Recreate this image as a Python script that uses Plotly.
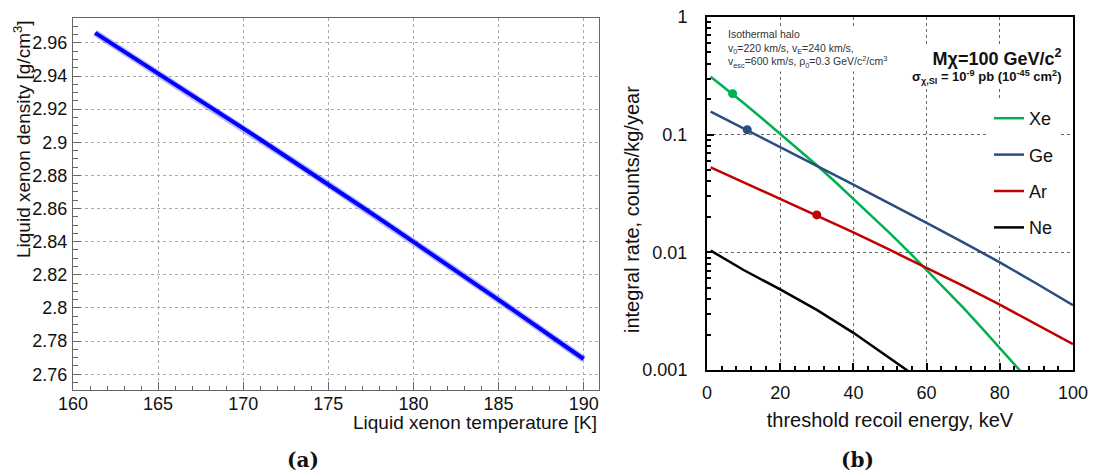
import plotly.graph_objects as go

# ---------------- data: panel (a) ----------------
temperature_K = [161.3, 162, 163, 164, 165, 166, 167, 168, 169, 170,
                 171, 172, 173, 174, 175, 176, 177, 178, 179, 180,
                 181, 182, 183, 184, 185, 186, 187, 188, 189, 190]
density_gcm3 = [2.9660, 2.9614, 2.9549, 2.9483, 2.9417, 2.9352, 2.9285, 2.9218, 2.9152, 2.9084,
                2.9017, 2.8949, 2.8882, 2.8814, 2.8745, 2.8677, 2.8608, 2.8539, 2.8470, 2.8400,
                2.8331, 2.8260, 2.8190, 2.8120, 2.8049, 2.7978, 2.7907, 2.7836, 2.7763, 2.7692]
a_xticks = [160, 165, 170, 175, 180, 185, 190]
a_yticks = [2.76, 2.78, 2.80, 2.82, 2.84, 2.86, 2.88, 2.90, 2.92, 2.94, 2.96]
a_yticklabels = ["2.76", "2.78", "2.8", "2.82", "2.84", "2.86", "2.88", "2.9", "2.92", "2.94", "2.96"]

# ---------------- data: panel (b) ----------------
xe_E = [1, 5, 10, 15, 20, 25, 30, 35, 40, 45, 50, 55, 60, 65, 70, 75, 80, 85, 86]
xe_rate = [0.311, 0.248, 0.186, 0.138, 0.102, 0.0750, 0.0550, 0.0398, 0.0285, 0.0204,
           0.0145, 0.0102, 0.00708, 0.00490, 0.00339, 0.00229, 0.00155, 0.00104, 0.00095]
ge_E = [1, 10, 20, 30, 40, 50, 60, 70, 80, 90, 100]
ge_rate = [0.157, 0.1135, 0.0785, 0.0543, 0.0376, 0.0260, 0.0178, 0.01216, 0.00822, 0.00543, 0.00355]
ar_E = [1, 10, 20, 30, 40, 50, 60, 70, 80, 90, 100]
ar_rate = [0.0528, 0.0394, 0.0285, 0.0207, 0.0148, 0.01047, 0.00741, 0.00519, 0.00359, 0.00245, 0.00166]
ne_E = [1, 10, 20, 30, 40, 50, 56]
ne_rate = [0.01035, 0.00708, 0.00484, 0.00324, 0.00207, 0.00127, 0.00093]
# threshold markers (E, rate)
xe_mark = ([7], [0.223])
ge_mark = ([11], [0.110])
ar_mark = ([30], [0.0208])
b_xticks = [0, 20, 40, 60, 80, 100]
b_yticks = [0.001, 0.01, 0.1, 1]
b_yticklabels = ["0.001", "0.01", "0.1", "1"]

GREEN, BLUE, RED, BLACK = "#00b050", "#2a4d80", "#c00000", "#000000"
FONT = "Liberation Sans, Arial, sans-serif"
W, H = 1095, 473

def px(x):
    return x / W

def py(y):
    return 1 - y / H

fig = go.Figure()

# panel (a)
fig.add_trace(go.Scatter(x=temperature_K, y=density_gcm3, mode="lines",
                         line=dict(color="rgba(60,60,255,0.35)", width=7),
                         xaxis="x", yaxis="y", showlegend=False, hoverinfo="skip"))
fig.add_trace(go.Scatter(x=temperature_K, y=density_gcm3, mode="lines",
                         line=dict(color="#0000ff", width=4),
                         xaxis="x", yaxis="y", showlegend=False, name="LXe density"))

# panel (b)
for name, E, r, col, mk in [("Xe", xe_E, xe_rate, GREEN, xe_mark),
                            ("Ge", ge_E, ge_rate, BLUE, ge_mark),
                            ("Ar", ar_E, ar_rate, RED, ar_mark),
                            ("Ne", ne_E, ne_rate, BLACK, None)]:
    fig.add_trace(go.Scatter(x=E, y=r, mode="lines", name=name, legendgroup=name,
                             line=dict(color=col, width=2.5), xaxis="x2", yaxis="y2"))
    if mk is not None:
        fig.add_trace(go.Scatter(x=mk[0], y=mk[1], mode="markers", legendgroup=name,
                                 marker=dict(color=col, size=9), showlegend=False,
                                 xaxis="x2", yaxis="y2"))

tickfont = dict(family=FONT, size=18, color="#111")
minor_log = [m * 10 ** e for e in (-3, -2, -1) for m in range(2, 10)]

fig.update_layout(
    width=W, height=H,
    margin=dict(l=0, r=0, t=0, b=0),
    paper_bgcolor="white", plot_bgcolor="white",
    font=dict(family=FONT, color="#111"),
    xaxis=dict(domain=[px(73), px(599)], anchor="y", range=[160, 190.9], automargin=False,
               tickvals=a_xticks, ticks="inside", ticklen=8, tickcolor="#666",
               minor=dict(ticks="inside", ticklen=4.5, dtick=1, tickcolor="#666", showgrid=False),
               showline=True, linecolor="#666", linewidth=1, mirror=True,
               showgrid=True, gridcolor="#aaa", griddash="dot", gridwidth=1,
               tickfont=tickfont, zeroline=False, ticklabelstandoff=-3),
    yaxis=dict(domain=[py(390), py(18)], anchor="x", range=[2.7505, 2.975], automargin=False,
               tickvals=a_yticks, ticktext=a_yticklabels, ticks="inside", ticklen=8, tickcolor="#666",
               minor=dict(ticks="inside", ticklen=4.5, dtick=0.005, tickcolor="#666", showgrid=False),
               showline=True, linecolor="#666", linewidth=1, mirror=True,
               showgrid=True, gridcolor="#aaa", griddash="dot", gridwidth=1,
               tickfont=tickfont, zeroline=False, ticklabelstandoff=1),
    xaxis2=dict(domain=[px(707), px(1073)], anchor="y2", range=[0, 100], automargin=False,
                tickvals=b_xticks, ticks="inside", ticklen=7, tickwidth=1.5, tickcolor="black",
                minor=dict(ticks="inside", ticklen=4, dtick=4, tickwidth=1.5, tickcolor="black", showgrid=False),
                showline=True, linecolor="black", linewidth=2, mirror=True,
                showgrid=True, gridcolor="#666", griddash="dot", gridwidth=1,
                tickfont=tickfont, zeroline=False, ticklabelstandoff=5,
                title=dict(text="threshold recoil energy, keV", font=dict(family=FONT, size=20, color="#111"),
                           standoff=11)),
    yaxis2=dict(domain=[py(370), py(17)], anchor="x2", type="log", range=[-3, 0], automargin=False,
                tickvals=b_yticks, ticktext=b_yticklabels, ticks="inside", ticklen=7, tickwidth=1.5,
                tickcolor="black",
                minor=dict(ticks="inside", ticklen=4, tickvals=minor_log, tickwidth=1.5,
                           tickcolor="black", showgrid=False),
                showline=True, linecolor="black", linewidth=2, mirror=True,
                showgrid=True, gridcolor="#666", griddash="dot", gridwidth=1,
                tickfont=tickfont, zeroline=False, ticklabelstandoff=14),
    legend=dict(x=px(989), y=py(100), xanchor="left", yanchor="top",
                bgcolor="white", borderwidth=0, tracegroupgap=10,
                font=dict(family=FONT, size=18, color="#111"), itemwidth=30),
    showlegend=True,
)

ann = []
# panel (a) axis titles (ROOT-style aligned to axis ends)
ann.append(dict(text="Liquid xenon temperature [K]", x=px(599), y=py(422.5), xref="paper", yref="paper",
                xanchor="right", yanchor="middle", showarrow=False,
                font=dict(family=FONT, size=19, color="#111")))
ann.append(dict(text="Liquid xenon density [g/cm<sup>3</sup>]", x=px(22), y=py(18), xref="paper", yref="paper",
                xanchor="center", yanchor="top", textangle=-90, showarrow=False,
                font=dict(family=FONT, size=19, color="#111")))
# panel (b) y title
ann.append(dict(text="integral rate, counts/kg/year", x=px(632), y=py(210), xref="paper", yref="paper",
                xanchor="center", yanchor="middle", textangle=-90, showarrow=False,
                font=dict(family=FONT, size=20, color="#111")))
# panel (b) text blocks
ann.append(dict(text="Isothermal halo<br>v<sub>0</sub>=220 km/s, v<sub>E</sub>=240 km/s,<br>"
                     "v<sub>esc</sub>=600 km/s, ρ<sub>0</sub>=0.3 GeV/c<sup>2</sup>/cm<sup>3</sup>",
                x=px(726), y=py(49), xref="paper", yref="paper", xanchor="left", yanchor="middle",
                align="left", showarrow=False, bgcolor="white", borderpad=1,
                font=dict(family=FONT, size=10.5, color="#333")))
ann.append(dict(text="<span style='font-size:18px'><b>Mχ=100 GeV/c<sup>2</sup></b></span><br>"
                     "<b>σ<sub>χ,SI</sub> = 10<sup>-9</sup> pb (10<sup>-45</sup> cm<sup>2</sup>)</b>",
                x=px(1063), y=py(66), xref="paper", yref="paper", align="right",
                xanchor="right", yanchor="middle", showarrow=False, bgcolor="white", borderpad=0,
                font=dict(family=FONT, size=13, color="#111")))
# panel labels
ann.append(dict(text="<b>(a)</b>", x=px(303), y=py(460), xref="paper", yref="paper",
                xanchor="center", yanchor="middle", showarrow=False,
                font=dict(family="DejaVu Serif, Liberation Serif, serif", size=20, color="#111")))
ann.append(dict(text="<b>(b)</b>", x=px(857), y=py(460), xref="paper", yref="paper",
                xanchor="center", yanchor="middle", showarrow=False,
                font=dict(family="DejaVu Serif, Liberation Serif, serif", size=20, color="#111")))
fig.update_layout(annotations=ann)

fig.write_html("out.html", config={"displayModeBar": False},
               post_script="document.body.style.margin='0';document.body.style.overflow='hidden';")
